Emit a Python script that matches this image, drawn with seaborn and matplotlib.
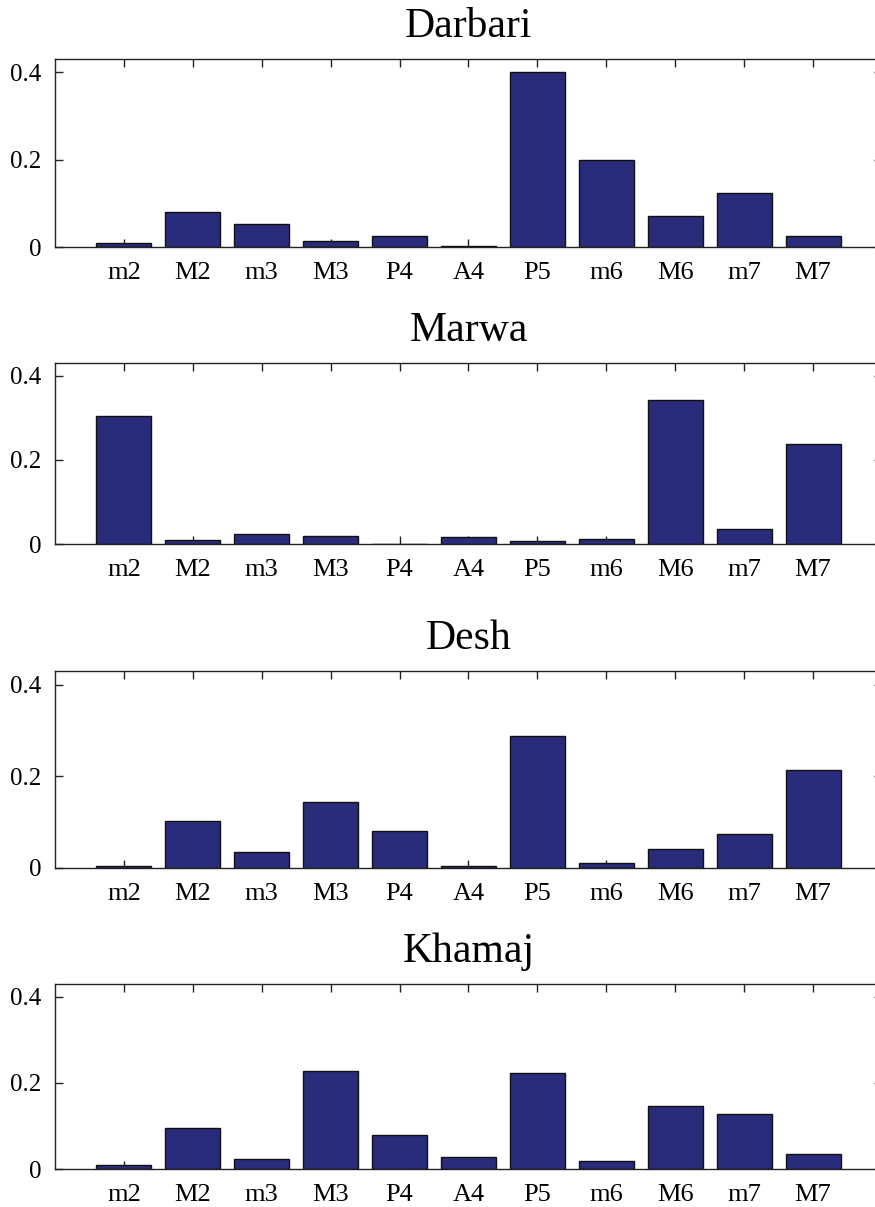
from matplotlib import pyplot as plt
import pandas as pd
import seaborn as sns

intervals = ["m2", "M2", "m3", "M3", "P4", "A4", "P5", "m6", "M6", "m7", "M7"]
ragas = ["Darbari", "Marwa", "Desh", "Khamaj"]

darbari = [0.009, 0.080, 0.053, 0.014, 0.025, 0.002, 0.401, 0.199, 0.071, 0.124, 0.025]
marwa = [0.303, 0.009, 0.024, 0.020, 0.0, 0.016, 0.006, 0.012, 0.342, 0.035, 0.237]
desh = [0.005, 0.102, 0.035, 0.144, 0.080, 0.005, 0.289, 0.011, 0.042, 0.075, 0.213]
khamaj = [0.010, 0.095, 0.024, 0.227, 0.078, 0.028, 0.224, 0.019, 0.146, 0.127, 0.036]

values = {"Darbari": darbari, "Marwa": marwa, "Desh": desh, "Khamaj": khamaj}

sns.set_style("ticks")
plt.rcParams["font.family"] = ["Liberation Serif", "DejaVu Serif"]
plt.rcParams["text.color"] = "black"

W, H = 875, 1207
fig = plt.figure(figsize=(W / 100, H / 100), dpi=100)

# axes boxes in pixels: (top, bottom of zero line)
boxes = [(59, 247), (363, 544), (671, 868), (984, 1169)]
left, right = 55, 882
bar_color = "#292c7b"

for raga, (top, bottom) in zip(ragas, boxes):
    ax = fig.add_axes([left / W, 1 - bottom / H, (right - left) / W, (bottom - top) / H])
    df = pd.DataFrame({"interval": intervals, "value": values[raga]})
    sns.barplot(data=df, x="interval", y="value", order=intervals, ax=ax,
                color=bar_color, saturation=1, width=0.8,
                edgecolor="#111111", linewidth=1.0)
    ax.set_xlim(-1, len(intervals))
    ax.set_ylim(0, 0.43)
    ax.set_yticks([0, 0.2, 0.4])
    ax.set_yticklabels(["0", "0.2", "0.4"])
    ax.set(xlabel="", ylabel="")
    ax.set_title(raga, fontsize=30, pad=16, color="black")
    ax.tick_params(axis="both", direction="in", length=6, width=1,
                   top=True, right=True, colors="#222222", labelcolor="black")
    ax.tick_params(axis="x", labelsize=19, pad=11)
    ax.tick_params(axis="y", labelsize=18, pad=10)
    for s in ax.spines.values():
        s.set_visible(True)
        s.set_linewidth(1.0)
        s.set_color("#222222")

fig.savefig("out.png", dpi=100)
